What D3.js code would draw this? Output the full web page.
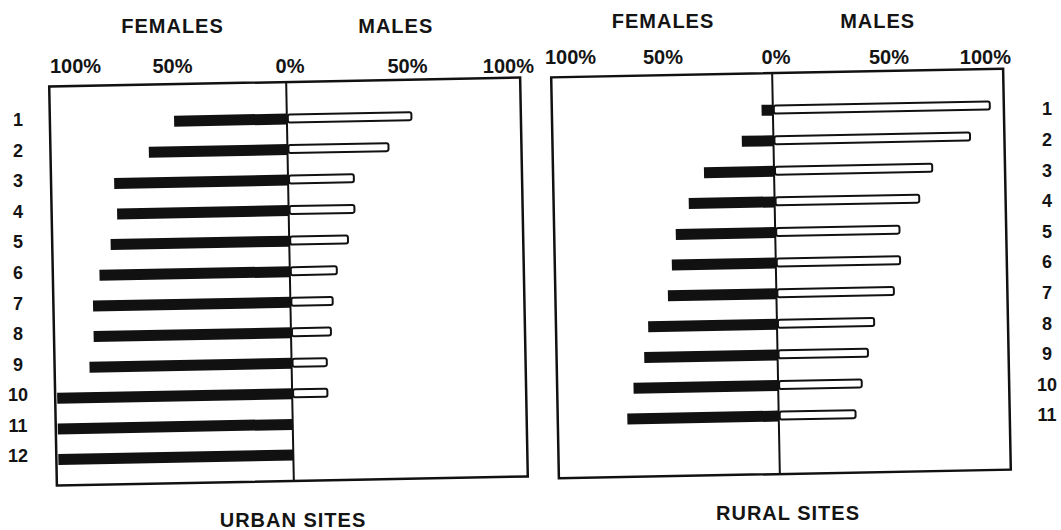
<!DOCTYPE html>
<html>
<head>
<meta charset="utf-8">
<script src="https://cdn.jsdelivr.net/npm/d3@7"></script>
<style>
  body { margin: 0; background: #fff; }
  svg { display: block; }
  text { font-family: 'Liberation Sans', Arial, sans-serif; font-weight: bold; fill: #141414; }
</style>
</head>
<body>
<svg id="chart"></svg>
<script>
// values, in percent
const urbanRows = [1, 2, 3, 4, 5, 6, 7, 8, 9, 10, 11, 12];
const urbanFemales = [48, 59, 74, 73, 76, 81, 84, 84, 86, 100, 100, 100];
const urbanMales = [53, 43, 28, 28, 25, 20, 18, 17, 15, 15, 0, 0];

const ruralRows = [1, 2, 3, 4, 5, 6, 7, 8, 9, 10, 11];
const ruralFemales = [5, 14, 31, 38, 44, 46, 48, 57, 59, 64, 67];
const ruralMales = [96, 87, 70, 64, 55, 55, 52, 43, 40, 37, 34];

const tickValues = [-100, -50, 0, 50, 100];
const tickLabels = ['100%', '50%', '0%', '50%', '100%'];
const sideTitles = ['FEMALES', 'MALES'];

const width = 1061,
  height = 530;

let svg = d3
  .select('#chart')
  .attr('width', width)
  .attr('height', height);

function drawPanel(p) {
  let xScale = d3.scaleLinear().domain([-100, 100]).range(p.range);
  let yScale = d3.scalePoint().domain(p.rows).range(p.rowRange);
  let rows = p.rows.map((r, i) => ({ row: r, f: p.females[i], m: p.males[i] }));
  let cx = (p.box[0] + p.box[1]) / 2,
    cy = (p.box[2] + p.box[3]) / 2;

  // the scan is slightly tilted, so the frame and bars get a small rotation
  let g = svg
    .append('g')
    .attr('transform', 'rotate(' + p.angle + ',' + cx + ',' + cy + ')');

  g.append('rect')
    .attr('x', p.box[0])
    .attr('y', p.box[2])
    .attr('width', p.box[1] - p.box[0])
    .attr('height', p.box[3] - p.box[2])
    .attr('fill', 'none')
    .attr('stroke', '#111')
    .attr('stroke-width', 2.5);

  g.selectAll('.female')
    .data(rows)
    .enter()
    .append('rect')
    .attr('class', 'female')
    .attr('x', d => xScale(-d.f))
    .attr('y', d => yScale(d.row) - 5.5)
    .attr('width', d => xScale(0) - xScale(-d.f))
    .attr('height', 11)
    .attr('fill', '#111');

  g.selectAll('.male')
    .data(rows.filter(d => d.m > 0))
    .enter()
    .append('rect')
    .attr('class', 'male')
    .attr('x', xScale(0) + 1)
    .attr('y', d => yScale(d.row) - 4.5)
    .attr('width', d => xScale(d.m) - xScale(0) - 1)
    .attr('height', 8)
    .attr('rx', 2)
    .attr('fill', '#fff')
    .attr('stroke', '#111')
    .attr('stroke-width', 2);

  g.append('line')
    .attr('x1', xScale(0))
    .attr('x2', xScale(0))
    .attr('y1', p.box[2])
    .attr('y2', p.box[3])
    .attr('stroke', '#111')
    .attr('stroke-width', 2);

  svg
    .selectAll(null)
    .data(rows)
    .enter()
    .append('text')
    .attr('x', p.labelX)
    .attr('y', d => yScale(d.row) + p.labelDy)
    .attr('dy', '0.35em')
    .attr('text-anchor', 'middle')
    .style('font-size', '18px')
    .text(d => d.row);

  svg
    .selectAll(null)
    .data(tickValues)
    .enter()
    .append('text')
    .attr('x', d => (d === -100 ? xScale(d) - 5 : d === 100 ? xScale(d) + 9 : xScale(d)))
    .attr('y', p.tickY)
    .attr('dy', '0.35em')
    .attr('text-anchor', d => (d === -100 ? 'start' : d === 100 ? 'end' : 'middle'))
    .style('font-size', '20px')
    .text((d, i) => tickLabels[i]);

  svg
    .selectAll(null)
    .data(sideTitles)
    .enter()
    .append('text')
    .attr('x', (d, i) => (i === 0 ? xScale(-50) : xScale(45)))
    .attr('y', p.titleY)
    .attr('dy', '0.35em')
    .attr('text-anchor', 'middle')
    .style('font-size', '20px')
    .style('letter-spacing', '1px')
    .text(d => d);

  svg
    .append('text')
    .attr('x', xScale(0) + p.footDx)
    .attr('y', p.footY)
    .attr('dy', '0.35em')
    .attr('text-anchor', 'middle')
    .style('font-size', '20px')
    .style('letter-spacing', '1px')
    .text(p.footer);
}

drawPanel({
  rows: urbanRows,
  females: urbanFemales,
  males: urbanMales,
  box: [53, 524, 82, 481],
  range: [55, 525],
  rowRange: [119, 455],
  angle: -1.1,
  labelX: 18,
  labelDy: 1,
  tickY: 66,
  titleY: 26,
  footY: 520,
  footDx: 3,
  footer: 'URBAN SITES'
});

drawPanel({
  rows: ruralRows,
  females: ruralFemales,
  males: ruralMales,
  box: [555, 1007, 73, 474],
  range: [550, 1002],
  rowRange: [110, 416],
  angle: -1.1,
  labelX: 1047,
  labelDy: -1,
  tickY: 57,
  titleY: 21,
  footY: 513,
  footDx: 12,
  footer: 'RURAL SITES'
});
</script>
</body>
</html>
